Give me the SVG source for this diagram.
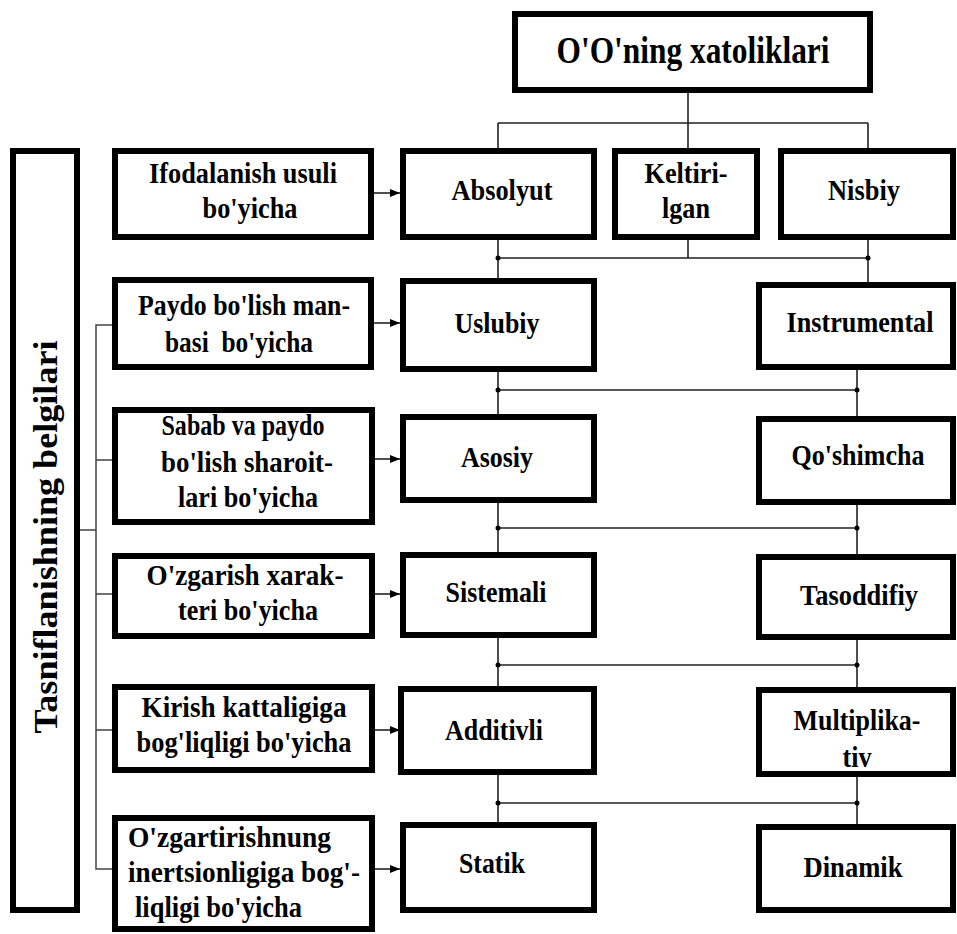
<svg xmlns="http://www.w3.org/2000/svg" width="957" height="934" viewBox="0 0 957 934">
<style>
.box{fill:#fff;stroke:#000;stroke-width:6}
.t{font-family:"Liberation Serif","Times New Roman",serif;font-weight:bold;font-size:30px;fill:#000;text-anchor:middle}
.s{text-anchor:start}
.ln{stroke:#222;stroke-width:1.6;fill:none}
.bus{stroke:#444;stroke-width:1.5;fill:none}
.dot{fill:#000}
</style>
<defs>
<marker id="arr" markerUnits="userSpaceOnUse" markerWidth="11" markerHeight="9" refX="10" refY="4.5" orient="auto">
<path d="M0,0.5 L10,4.5 L0,8.5 z" fill="#000"/>
</marker>
</defs>
<rect width="957" height="934" fill="#fff"/>

<g id="connectors">
<path class="ln" d="M688,93 V123 M498,123 H868 M498,123 V148 M688,123 V148 M868,123 V148"/>
<path class="ln" d="M498,240 V278 M688,240 V258 M868,240 V282 M498,258 H868"/>
<path class="ln" d="M498,372 V414 M857,370 V416 M498,390 H857"/>
<path class="ln" d="M498,503 V552 M857,505 V554 M498,528 H857"/>
<path class="ln" d="M498,638 V686 M857,640 V687 M498,665 H857"/>
<path class="ln" d="M498,775 V822 M857,777 V824 M498,803 H857"/>
<circle class="dot" cx="498" cy="258" r="2.5"/><circle class="dot" cx="868" cy="258" r="2.5"/>
<circle class="dot" cx="498" cy="390" r="2.5"/><circle class="dot" cx="857" cy="390" r="2.5"/>
<circle class="dot" cx="498" cy="528" r="2.5"/><circle class="dot" cx="857" cy="528" r="2.5"/>
<circle class="dot" cx="498" cy="665" r="2.5"/><circle class="dot" cx="857" cy="665" r="2.5"/>
<circle class="dot" cx="498" cy="803" r="2.5"/><circle class="dot" cx="857" cy="803" r="2.5"/>
<path class="bus" d="M112,325 H96 V869 H112 M96,460 H112 M96,594 H112 M96,730 H112 M80,530 H96"/>
<path class="ln" d="M374,193 H400" marker-end="url(#arr)"/>
<path class="ln" d="M374,323 H400" marker-end="url(#arr)"/>
<path class="ln" d="M375,459 H400" marker-end="url(#arr)"/>
<path class="ln" d="M375,594 H400" marker-end="url(#arr)"/>
<path class="ln" d="M375,730 H400" marker-end="url(#arr)"/>
<path class="ln" d="M375,869 H400" marker-end="url(#arr)"/>
</g>

<g id="n-top"><rect class="box" x="515" y="14" width="355" height="76"/>
<text class="t" x="693" y="63" style="font-size:37px" textLength="273" lengthAdjust="spacingAndGlyphs">O'O'ning xatoliklari</text></g>

<g id="n-tasnif"><rect class="box" x="13" y="151" width="64" height="759"/>
<text class="t" transform="translate(57,537) rotate(-90)" style="font-size:33px" textLength="393" lengthAdjust="spacingAndGlyphs">Tasniflanishning belgilari</text></g>

<g id="n-ifoda"><rect class="box" x="115" y="151" width="256" height="86"/>
<text class="t" x="243" y="183" textLength="188" lengthAdjust="spacingAndGlyphs">Ifodalanish usuli</text>
<text class="t" x="250" y="218" textLength="95" lengthAdjust="spacingAndGlyphs">bo'yicha</text></g>

<g id="n-paydo"><rect class="box" x="115" y="280" width="256" height="87"/>
<text class="t" x="244" y="315" textLength="212" lengthAdjust="spacingAndGlyphs">Paydo bo'lish man-</text>
<text class="t" x="239" y="352" textLength="148" lengthAdjust="spacingAndGlyphs" xml:space="preserve">basi  bo'yicha</text></g>

<g id="n-sabab"><rect class="box" x="115" y="410" width="257" height="112"/>
<text class="t" x="243" y="435" textLength="163" lengthAdjust="spacingAndGlyphs">Sabab va paydo</text>
<text class="t" x="247" y="472" textLength="172" lengthAdjust="spacingAndGlyphs">bo'lish sharoit-</text>
<text class="t" x="248" y="507" textLength="140" lengthAdjust="spacingAndGlyphs">lari bo'yicha</text></g>

<g id="n-ozgarish"><rect class="box" x="115" y="556" width="257" height="80"/>
<text class="t" x="245" y="585" textLength="197" lengthAdjust="spacingAndGlyphs">O'zgarish xarak-</text>
<text class="t" x="248" y="620" textLength="140" lengthAdjust="spacingAndGlyphs">teri bo'yicha</text></g>

<g id="n-kirish"><rect class="box" x="115" y="687" width="257" height="83"/>
<text class="t" x="244" y="717" textLength="205" lengthAdjust="spacingAndGlyphs">Kirish kattaligiga</text>
<text class="t" x="244" y="752" textLength="215" lengthAdjust="spacingAndGlyphs">bog'liqligi bo'yicha</text></g>

<g id="n-ozgartirish"><rect class="box" x="115" y="818" width="257" height="111"/>
<text class="t s" x="128" y="847" textLength="203" lengthAdjust="spacingAndGlyphs">O'zgartirishnung</text>
<text class="t s" x="128" y="882" textLength="232" lengthAdjust="spacingAndGlyphs">inertsionligiga bog'-</text>
<text class="t s" x="135" y="917" textLength="167" lengthAdjust="spacingAndGlyphs">liqligi bo'yicha</text></g>

<g id="n-absolyut"><rect class="box" x="403" y="151" width="191" height="86"/><text class="t" x="502" y="200" textLength="101" lengthAdjust="spacingAndGlyphs">Absolyut</text></g>
<g id="n-keltirilgan"><rect class="box" x="615" y="151" width="142" height="86"/><text class="t" x="686" y="183" textLength="83" lengthAdjust="spacingAndGlyphs">Keltiri-</text><text class="t" x="686" y="218" textLength="48" lengthAdjust="spacingAndGlyphs">lgan</text></g>
<g id="n-nisbiy"><rect class="box" x="781" y="151" width="172" height="86"/><text class="t" x="864" y="200" textLength="72" lengthAdjust="spacingAndGlyphs">Nisbiy</text></g>

<g id="n-uslubiy"><rect class="box" x="403" y="281" width="191" height="88"/><text class="t" x="497" y="333" textLength="85" lengthAdjust="spacingAndGlyphs">Uslubiy</text></g>
<g id="n-instrumental"><rect class="box" x="759" y="285" width="194" height="82"/><text class="t" x="860" y="332" textLength="147" lengthAdjust="spacingAndGlyphs">Instrumental</text></g>

<g id="n-asosiy"><rect class="box" x="403" y="417" width="191" height="83"/><text class="t" x="497" y="467" textLength="72" lengthAdjust="spacingAndGlyphs">Asosiy</text></g>
<g id="n-qoshimcha"><rect class="box" x="759" y="419" width="194" height="83"/><text class="t" x="858" y="465" textLength="133" lengthAdjust="spacingAndGlyphs">Qo'shimcha</text></g>

<g id="n-sistemali"><rect class="box" x="403" y="555" width="191" height="80"/><text class="t" x="496" y="602" textLength="101" lengthAdjust="spacingAndGlyphs">Sistemali</text></g>
<g id="n-tasodifiy"><rect class="box" x="759" y="557" width="194" height="80"/><text class="t" x="859" y="605" textLength="118" lengthAdjust="spacingAndGlyphs">Tasoddifiy</text></g>

<g id="n-additivli"><rect class="box" x="401" y="689" width="193" height="83"/><text class="t" x="494" y="740" textLength="98" lengthAdjust="spacingAndGlyphs">Additivli</text></g>
<g id="n-multiplikativ"><rect class="box" x="759" y="690" width="194" height="84"/><text class="t" x="857" y="730" textLength="127" lengthAdjust="spacingAndGlyphs">Multiplika-</text><text class="t" x="857" y="767" textLength="29" lengthAdjust="spacingAndGlyphs">tiv</text></g>

<g id="n-statik"><rect class="box" x="403" y="825" width="191" height="85"/><text class="t" x="492" y="873" textLength="66" lengthAdjust="spacingAndGlyphs">Statik</text></g>
<g id="n-dinamik"><rect class="box" x="759" y="827" width="194" height="83"/><text class="t" x="853" y="877" textLength="99" lengthAdjust="spacingAndGlyphs">Dinamik</text></g>
</svg>
